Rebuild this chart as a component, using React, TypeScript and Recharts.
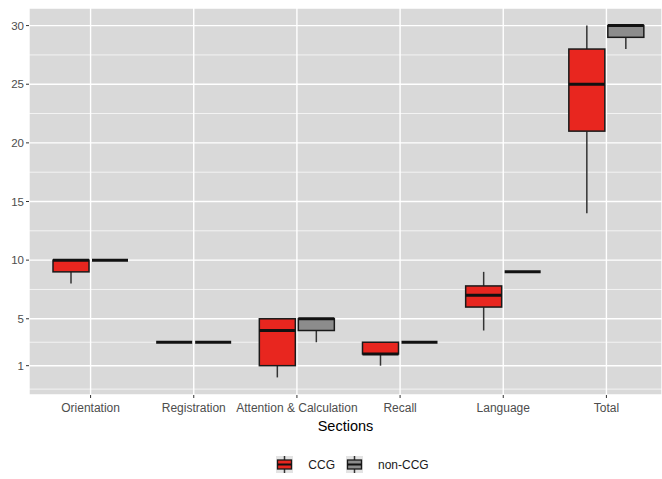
import React from 'react';
import {
  ComposedChart,
  Bar,
  XAxis,
  YAxis,
  CartesianGrid,
  Legend
} from 'recharts';

const categories = ['Orientation', 'Registration', 'Attention & Calculation', 'Recall', 'Language', 'Total'];

// CCG five-number summaries
const ccgMin = [8, 3, 0, 1, 4, 14];
const ccgQ1 = [9, 3, 1, 2, 6, 21];
const ccgMed = [10, 3, 4, 2, 7, 25];
const ccgQ3 = [10, 3, 5, 3, 7.8, 28];
const ccgMax = [10, 3, 5, 3, 9, 30];

// non-CCG five-number summaries
const nonMin = [10, 3, 3, 3, 9, 28];
const nonQ1 = [10, 3, 4, 3, 9, 29];
const nonMed = [10, 3, 5, 3, 9, 30];
const nonQ3 = [10, 3, 5, 3, 9, 30];
const nonMax = [10, 3, 5, 3, 9, 30];

const yTicks = [1, 5, 10, 15, 20, 25, 30];
const minorTicks = [-1, 3, 7.5, 12.5, 17.5, 22.5, 27.5];

const CCG_FILL = '#E8261F';
const NON_FILL = '#8C8C8C';
const PANEL_BG = '#D9D9D9';

const data = categories.map((name, i) => ({
  name,
  ccgHi: ccgMax[i],
  nonHi: nonMax[i],
  ccg: { min: ccgMin[i], q1: ccgQ1[i], med: ccgMed[i], q3: ccgQ3[i], max: ccgMax[i] },
  non: { min: nonMin[i], q1: nonQ1[i], med: nonMed[i], q3: nonQ3[i], max: nonMax[i] }
}));

// bar goes from 0 to the whisker max, so its geometry gives us the y scale
const makeBox = (key: 'ccg' | 'non', fill: string) => (props: any) => {
  const { x, y, width, height, payload } = props;
  const s = payload[key];
  const k = height / s.max;
  const zero = y + height;
  const py = (v: number) => zero - v * k;
  const cx = x + width / 2;
  return (
    <g>
      <line x1={cx} x2={cx} y1={py(s.max)} y2={py(s.q3)} stroke="#333" strokeWidth={1.5} />
      <line x1={cx} x2={cx} y1={py(s.q1)} y2={py(s.min)} stroke="#333" strokeWidth={1.5} />
      {s.q3 > s.q1 && (
        <rect x={x} y={py(s.q3)} width={width} height={py(s.q1) - py(s.q3)} fill={fill} stroke="#1a1a1a" strokeWidth={1.5} />
      )}
      <line x1={x} x2={x + width} y1={py(s.med)} y2={py(s.med)} stroke="#111" strokeWidth={3} />
    </g>
  );
};

const LegendKey = ({ fill }: { fill: string }) => (
  <svg width={17} height={17} style={{ display: 'block' }}>
    <rect x={0} y={0} width={17} height={17} fill="#E3E3E3" />
    <line x1={8.5} x2={8.5} y1={0} y2={17} stroke="#333" strokeWidth={1.5} />
    <rect x={1.5} y={4} width={14} height={9} fill={fill} stroke="#1a1a1a" strokeWidth={1.3} />
    <line x1={1.5} x2={15.5} y1={8.5} y2={8.5} stroke="#111" strokeWidth={2} />
  </svg>
);

const renderLegend = () => (
  <div
    style={{
      display: 'flex',
      alignItems: 'center',
      justifyContent: 'center',
      fontFamily: '"Liberation Sans", Arial, sans-serif',
      fontSize: 12,
      color: '#1a1a1a',
      paddingLeft: 43,
      marginTop: 19
    }}
  >
    <LegendKey fill={CCG_FILL} />
    <span style={{ marginLeft: 15, marginRight: 11 }}>CCG</span>
    <LegendKey fill={NON_FILL} />
    <span style={{ marginLeft: 15 }}>non-CCG</span>
  </div>
);

export default function App() {
  return (
    <div style={{ width: 662, height: 479, background: '#fff' }}>
      <style>{`body{margin:0}`}</style>
      <ComposedChart
        width={662}
        height={479}
        data={data}
        margin={{ top: 8, right: 0, left: 0, bottom: 0 }}
        barSize={36}
        barGap={3}
        style={{ fontFamily: '"Liberation Sans", Arial, sans-serif' }}
      >
        <CartesianGrid
          fill={PANEL_BG}
          stroke="#FFFFFF"
          strokeWidth={0.7}
          vertical={false}
          horizontalValues={minorTicks}
        />
        <CartesianGrid stroke="#FFFFFF" strokeWidth={1.4} fillOpacity={0} />
        <XAxis
          dataKey="name"
          type="category"
          padding={{ left: 10, right: 4 }}
          height={42}
          axisLine={false}
          tickSize={3}
          tickMargin={5}
          tickLine={{ stroke: '#333', strokeWidth: 1 }}
          tick={{ fontSize: 12, fill: '#4D4D4D' }}
          interval={0}
          label={{ value: 'Sections', position: 'insideBottom', offset: 6, fontSize: 14.5, fill: '#000' }}
        />
        <YAxis
          type="number"
          domain={[-1.5, 31.5]}
          ticks={yTicks}
          width={29}
          axisLine={false}
          tickSize={3}
          tickMargin={2}
          tickLine={{ stroke: '#333', strokeWidth: 1 }}
          tick={{ fontSize: 11.5, fill: '#4D4D4D' }}
          allowDataOverflow
        />
        <Legend verticalAlign="bottom" height={42} content={renderLegend} wrapperStyle={{ left: 0, width: 662 }} />
        <Bar dataKey="ccgHi" name="CCG" fill={CCG_FILL} shape={makeBox('ccg', CCG_FILL)} isAnimationActive={false} />
        <Bar dataKey="nonHi" name="non-CCG" fill={NON_FILL} shape={makeBox('non', NON_FILL)} isAnimationActive={false} />
      </ComposedChart>
    </div>
  );
}
